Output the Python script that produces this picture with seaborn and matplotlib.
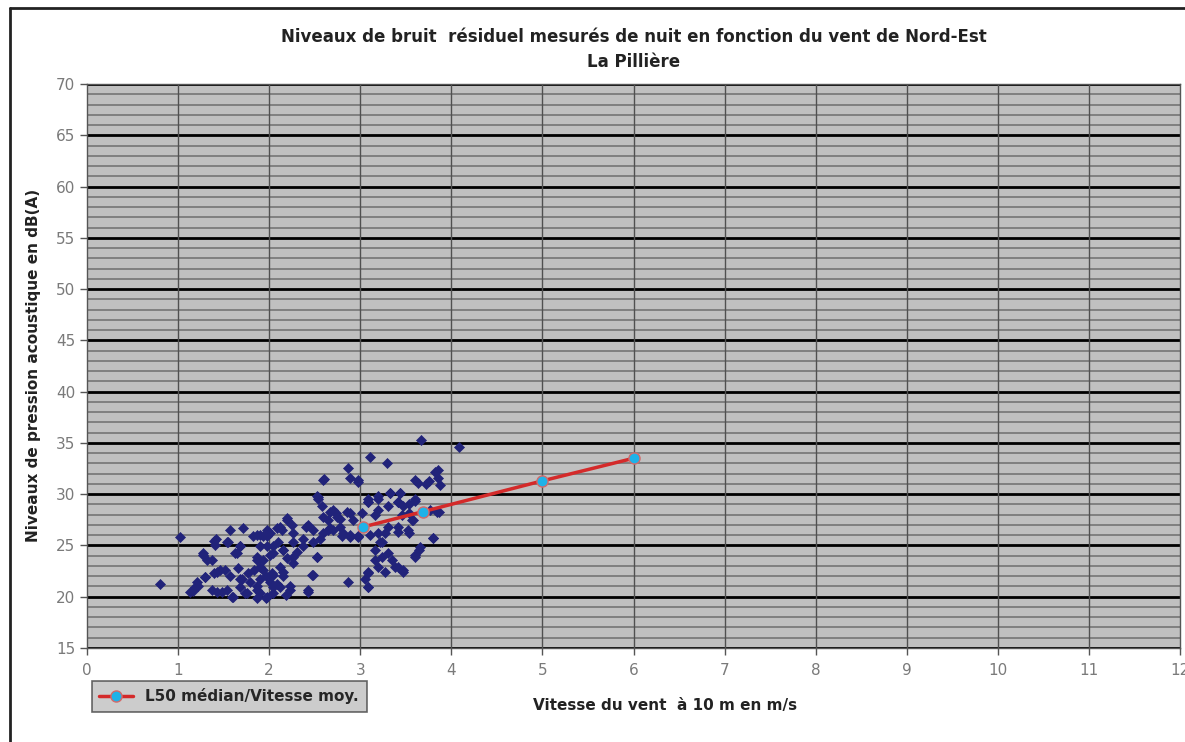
import matplotlib
import numpy as np
import pandas as pd
import seaborn as sns

matplotlib.use("Agg")
import matplotlib.pyplot as plt
from matplotlib.lines import Line2D

# scatter: wind speed (m/s) vs residual noise level dB(A)
wind_speed = [
    0.80, 1.02, 1.13, 1.22, 1.27, 1.32, 1.39, 1.42, 1.57, 1.71, 1.54, 1.65, 1.68, 1.82, 1.90,
    1.98, 2.09, 1.98, 2.04, 1.87, 1.46, 1.39, 1.57, 1.68, 1.30, 1.90, 2.03, 2.09, 1.16, 1.43,
    1.54, 1.60, 1.76, 1.87, 1.96, 2.04, 1.21, 1.68, 1.79, 1.41, 1.55, 1.68, 1.27, 1.37, 1.63,
    1.52, 1.43, 1.30, 1.66, 1.19, 1.37, 1.48, 1.59, 1.74, 1.70, 1.77,
    2.54, 2.58, 2.67, 2.73, 2.89, 2.20, 2.43, 2.25, 2.14, 2.01, 1.87, 1.93, 2.67, 2.78, 2.59,
    2.80, 2.89, 2.97, 2.10, 2.26, 2.37, 2.48, 1.90, 2.15, 2.31, 2.52, 2.01, 2.20, 1.87, 2.26,
    1.83, 1.93, 2.04, 2.15, 2.47, 1.90, 2.01, 2.23, 2.12, 1.87, 2.43, 2.87, 1.87, 2.18, 1.98,
    2.20, 2.12, 2.26, 1.98, 2.04, 2.15, 2.26, 1.93, 2.12, 2.15, 2.23, 2.43, 2.48, 2.52, 2.37,
    2.56, 2.65, 2.48, 2.40, 2.59, 2.70, 2.81, 2.89, 2.97, 1.96, 2.04, 1.90, 2.54, 2.70, 2.75,
    2.86, 2.65, 2.78, 2.92, 2.60,
    3.09, 3.02, 3.16, 3.31, 3.42, 3.53, 3.60, 3.46, 3.57, 3.86, 3.31, 3.42, 3.53, 2.98, 3.80,
    3.24, 3.16, 3.64, 3.24, 3.35, 3.60, 3.09, 3.20, 3.38, 3.47, 3.05, 3.08,
    2.87, 2.89, 2.97, 2.59, 2.52, 3.67, 4.08, 3.11, 3.29, 3.85, 3.85, 3.88, 3.60, 2.97, 3.33,
    3.44, 3.09, 3.20, 3.60, 3.08, 3.19, 3.20, 3.33, 3.44, 3.41, 3.47, 3.53, 3.63, 3.82, 3.77,
    3.84, 3.80, 3.66, 3.60, 3.47, 3.41, 3.30, 3.22, 3.19, 3.11, 3.27, 3.41, 3.52, 3.58, 3.16,
    3.08, 3.08, 3.27, 3.75, 3.72,
]
noise_level = [
    21.2, 25.8, 20.5, 21.0, 24.3, 23.6, 25.4, 25.6, 26.5, 26.7, 25.3, 24.3, 24.9, 25.9, 26.0,
    26.5, 26.7, 24.9, 24.3, 23.9, 22.6, 22.3, 22.0, 21.7, 21.9, 22.9, 22.3, 21.2, 20.6, 20.5,
    20.7, 20.0, 20.4, 20.7, 19.9, 20.4, 21.4, 20.9, 21.4, 25.0, 25.3, 24.9, 24.1, 23.6, 24.3,
    22.6, 22.4, 21.9, 22.8, 20.9, 20.7, 20.5, 20.0, 20.4, 21.7, 22.3,
    29.5, 28.8, 28.3, 28.2, 28.2, 27.7, 27.0, 27.0, 26.5, 26.2, 26.0, 25.9, 26.7, 26.8, 26.2,
    25.9, 25.8, 25.9, 25.3, 25.3, 25.6, 25.3, 24.9, 24.6, 24.4, 23.9, 24.1, 23.8, 23.6, 23.3,
    22.6, 22.6, 22.1, 22.4, 22.1, 21.7, 21.4, 21.0, 20.9, 21.0, 20.7, 21.4, 19.9, 20.2, 20.0,
    27.5, 26.8, 26.2, 25.9, 24.9, 24.6, 23.9, 23.6, 22.9, 22.0, 20.7, 20.5, 22.1, 23.9, 24.9,
    25.6, 26.5, 26.5, 26.8, 27.8, 26.5, 26.2, 26.0, 25.8, 22.0, 20.9, 20.4, 29.7, 28.5, 27.8,
    28.3, 27.5, 27.6, 27.5, 31.5,
    29.2, 28.2, 28.0, 28.8, 29.2, 29.0, 29.3, 28.0, 27.5, 28.3, 26.8, 26.3, 26.2, 25.9, 25.7,
    25.3, 24.6, 24.6, 23.9, 23.6, 23.9, 22.4, 22.9, 22.9, 22.6, 21.7, 20.9,
    32.6, 31.6, 31.4, 31.4, 29.8, 35.3, 34.6, 33.6, 33.0, 32.4, 31.6, 30.9, 31.4, 31.2, 30.1,
    30.1, 29.5, 29.8, 29.5, 29.2, 29.5, 28.5, 30.1, 30.1, 29.2, 28.8, 28.2, 31.1, 32.2, 28.5,
    28.3, 25.7, 24.8, 24.1, 22.4, 22.9, 24.3, 25.3, 26.2, 26.0, 26.2, 26.8, 26.5, 27.5, 23.6,
    22.3, 20.9, 22.4, 31.3, 31.0,
]

# L50 median per wind speed class
median_speed = [3.03, 3.69, 5.0, 6.0]
median_level = [26.8, 28.3, 31.3, 33.5]

x_ticks = list(range(0, 13))
y_ticks = list(range(15, 71, 5))

scatter_df = pd.DataFrame({"vitesse": wind_speed, "niveau": noise_level})
median_df = pd.DataFrame({"vitesse": median_speed, "niveau": median_level})

sns.set_theme(style="white")
plt.rcParams["font.family"] = ["DejaVu Sans"]

fig = plt.figure(figsize=(11.85, 7.42), dpi=100)
ax = fig.add_axes([0.0734, 0.1267, 0.9224, 0.7601])
ax.set_facecolor("#c0c0c0")

# grid: 1 dB minor lines, 5 dB black major lines, vertical lines each m/s
for yv in range(15, 71):
    if yv % 5 == 0:
        ax.axhline(yv, color="black", lw=2.0, zorder=1)
    else:
        ax.axhline(yv, color="#808080", lw=1.4, zorder=1)
for xv in x_ticks[1:-1]:
    ax.axvline(xv, color="#505050", lw=1.0, zorder=1)

sns.scatterplot(data=scatter_df, x="vitesse", y="niveau", ax=ax, marker="D",
                s=26, color="#21237a", edgecolor="#21237a", linewidth=0.5,
                legend=False, zorder=3)
sns.lineplot(data=median_df, x="vitesse", y="niveau", ax=ax, color="#d42a2a",
             linewidth=2.5, marker="o", markersize=8, markerfacecolor="#1fb2e8",
             markeredgecolor="#d46a6a", markeredgewidth=1.0,
             label="L50 médian/Vitesse moy.", zorder=4)

ax.set_xlim(0, 12)
ax.set_ylim(15, 70)
ax.set_xticks(x_ticks)
ax.set_yticks(y_ticks)
ax.tick_params(axis="both", colors="#555555", labelcolor="#7a7a7a", labelsize=11,
               length=5, width=1, direction="out", left=True, bottom=True)
ax.tick_params(axis="x", pad=6)
for sp in ax.spines.values():
    sp.set_color("#555555")
    sp.set_linewidth(1.0)
ax.set_xlabel("")
ax.set_ylabel("")

ax.set_title("Niveaux de bruit  résiduel mesurés de nuit en fonction du vent de Nord-Est\nLa Pillière",
             fontsize=12, fontweight="bold", color="#222222", pad=12, linespacing=1.5)
fig.text(0.028, 0.507, "Niveaux de pression acoustique en dB(A)", rotation=90,
         ha="center", va="center", fontsize=11, fontweight="bold", color="#222222")
fig.text(0.561, 0.049, "Vitesse du vent  à 10 m en m/s", ha="center", va="center",
         fontsize=11, fontweight="bold", color="#222222")

ax.get_legend().remove()
handles, labels = ax.get_legend_handles_labels()
leg = fig.legend(handles, labels, loc="lower left", bbox_to_anchor=(0.071, 0.03),
                 frameon=True, fancybox=False, handlelength=2.2,
                 borderpad=0.5, prop={"weight": "bold", "size": 11})
leg.get_frame().set_facecolor("#c0c0c0")
leg.get_frame().set_edgecolor("#444444")
leg.get_frame().set_linewidth(1.2)

# chart border: only the top and left edges show in the screenshot
fig.add_artist(Line2D([0.0084, 1.0], [0.989, 0.989], transform=fig.transFigure,
                      color="#222222", lw=2.0))
fig.add_artist(Line2D([0.0084, 0.0084], [0.0, 0.989], transform=fig.transFigure,
                      color="#222222", lw=2.0))

fig.savefig("out.png", dpi=100)
plt.close(fig)
